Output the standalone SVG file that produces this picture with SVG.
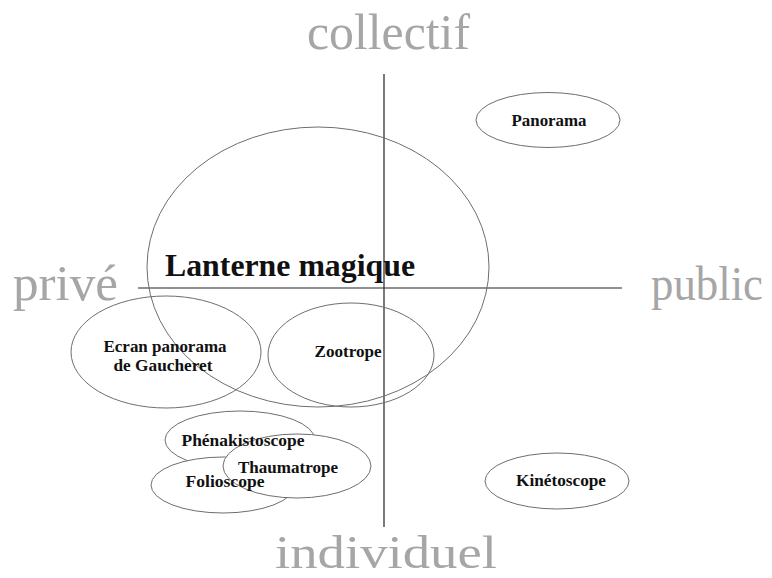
<svg xmlns="http://www.w3.org/2000/svg" width="772" height="578" viewBox="0 0 772 578">
<style>
.axis{font-family:"Liberation Serif","Times New Roman",serif;fill:#a6a6a6;font-size:50px}
.shape{fill:none;stroke:#6e6e6e;stroke-width:1}
.white{fill:#fff;stroke:#6e6e6e;stroke-width:1}
.lbl{font-family:"Liberation Serif","Times New Roman",serif;font-weight:bold;fill:#111;font-size:17px;text-anchor:middle}
.big{font-size:31px;text-anchor:start}
.ax{stroke:#222;stroke-width:1.2}
</style>
<rect width="772" height="578" fill="#fff"/>
<g id="axis-labels">
<text class="axis" x="307" y="49" textLength="163" lengthAdjust="spacingAndGlyphs">collectif</text>
<text class="axis" x="13" y="300" textLength="105" lengthAdjust="spacingAndGlyphs">privé</text>
<text class="axis" x="651" y="300" style="font-size:48px" textLength="112" lengthAdjust="spacingAndGlyphs">public</text>
<text class="axis" x="275" y="568" style="font-size:47px" textLength="222" lengthAdjust="spacingAndGlyphs">individuel</text>
</g>
<g id="connectors">
<line class="ax" x1="384" y1="74" x2="384" y2="527"/>
<line class="ax" x1="138" y1="288" x2="622" y2="288"/>
</g>
<g id="n-lanterne"><ellipse class="shape" cx="318" cy="267" rx="171" ry="140"/></g>
<g id="n-panorama"><ellipse class="shape" cx="548" cy="120" rx="72" ry="27.5"/></g>
<g id="n-ecran"><ellipse class="shape" cx="166" cy="352" rx="95" ry="56"/></g>
<g id="n-zootrope"><ellipse class="shape" cx="351" cy="355" rx="83" ry="52"/></g>
<g id="n-phenakistoscope"><ellipse class="white" cx="240" cy="440" rx="75" ry="29"/></g>
<g id="n-folioscope"><ellipse class="white" cx="223" cy="485" rx="72" ry="28"/></g>
<g id="n-thaumatrope"><ellipse class="white" cx="297" cy="466" rx="74" ry="32"/></g>
<g id="n-kinetoscope"><ellipse class="shape" cx="557" cy="481" rx="72" ry="28"/></g>
<g id="labels">
<text class="lbl big" x="165" y="276" textLength="250" lengthAdjust="spacingAndGlyphs">Lanterne magique</text>
<text class="lbl" x="549" y="126" textLength="75" lengthAdjust="spacingAndGlyphs">Panorama</text>
<text class="lbl" x="165" y="352" textLength="123" lengthAdjust="spacingAndGlyphs">Ecran panorama</text>
<text class="lbl" x="163" y="371" textLength="99" lengthAdjust="spacingAndGlyphs">de Gaucheret</text>
<text class="lbl" x="348" y="357" textLength="67" lengthAdjust="spacingAndGlyphs">Zootrope</text>
<text class="lbl" x="243" y="446" textLength="123" lengthAdjust="spacingAndGlyphs">Phénakistoscope</text>
<text class="lbl" x="288" y="473" textLength="100" lengthAdjust="spacingAndGlyphs">Thaumatrope</text>
<text class="lbl" x="225" y="487" textLength="79" lengthAdjust="spacingAndGlyphs">Folioscope</text>
<text class="lbl" x="561" y="486" textLength="90" lengthAdjust="spacingAndGlyphs">Kinétoscope</text>
</g>
</svg>
